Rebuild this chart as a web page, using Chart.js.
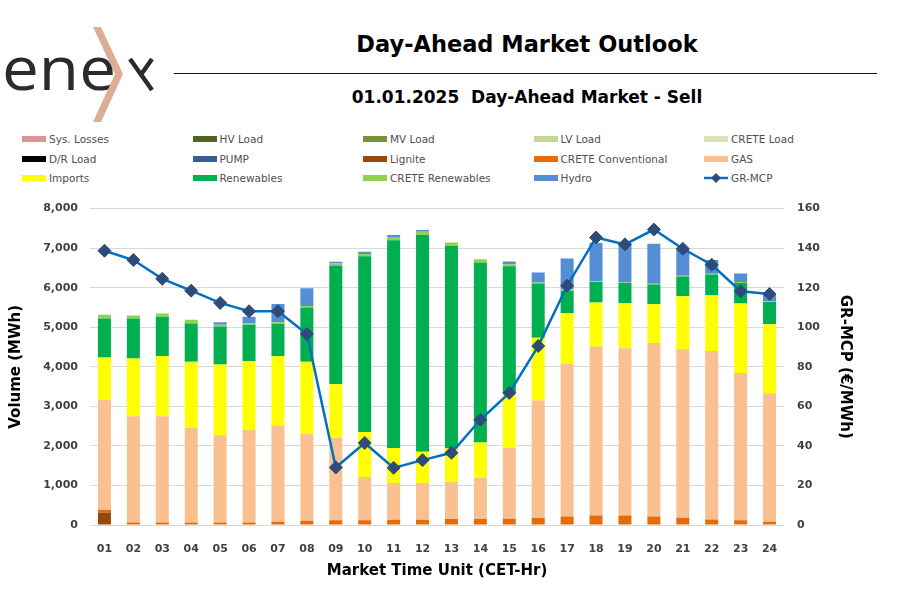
<!DOCTYPE html>
<html>
<head>
<meta charset="utf-8">
<script src="https://cdn.jsdelivr.net/npm/chart.js@4.4.1/dist/chart.umd.min.js"></script>
<style>
  body { margin:0; width:902px; height:591px; background:#fff; position:relative; overflow:hidden; font-family:"DejaVu Sans", sans-serif; }
  #logo { position:absolute; left:0; top:0; }
  .title { position:absolute; left:327px; width:400px; text-align:center; font-weight:bold; color:#000; white-space:nowrap; }
  #mainTitle { top:31px; font-size:22.5px; }
  #subTitle { top:87px; font-size:17px; }
  #rule { position:absolute; left:174px; top:73px; width:703px; height:1px; background:#111; }
  #legend { position:absolute; left:0; top:130px; width:902px; height:60px; }
  .item { position:absolute; font-size:10.5px; color:#505050; white-space:nowrap; line-height:12px; }
  .sw { display:inline-block; width:24px; height:6px; vertical-align:middle; margin-right:3px; margin-top:-2px; }
  #wrap { position:absolute; left:0; top:189px; width:902px; height:402px; }
</style>
</head>
<body>
<svg id="logo" width="170" height="130">
  <text x="2" y="90" font-family="Open Sans, sans-serif" font-size="60" fill="#2b2b2b" textLength="114" lengthAdjust="spacingAndGlyphs">ene</text>
  <polygon points="93,27 101,27 123,74 101,122 93,122 115,74" fill="#dcae95"/>
  <line x1="130" y1="59" x2="152" y2="90" stroke="#2b2b2b" stroke-width="4.5"/>
  <line x1="152" y1="59" x2="140" y2="76" stroke="#2b2b2b" stroke-width="4.5"/>
</svg>
<div id="mainTitle" class="title">Day-Ahead Market Outlook</div>
<div id="rule"></div>
<div id="subTitle" class="title">01.01.2025&nbsp;&nbsp;Day-Ahead Market - Sell</div>
<div id="legend"></div>
<div id="wrap"><canvas id="marketChart"></canvas></div>
<script>
const hours = ["01","02","03","04","05","06","07","08","09","10","11","12",
               "13","14","15","16","17","18","19","20","21","22","23","24"];

// MWh per market time unit
const lignite      = [317,0,0,0,0,0,0,0,0,0,0,0,0,0,0,0,0,0,0,0,0,0,0,0];
const creteConv    = [67,65,65,65,65,65,80,108,117,117,134,134,150,150,158,176,217,243,243,217,184,142,117,84];
const gas          = [2787,2687,2687,2395,2202,2345,2438,2192,2083,1096,928,928,946,1046,1800,2970,3858,4267,4226,4385,4259,4259,3724,3246];
const imports      = [1062,1456,1524,1665,1790,1732,1750,1825,1356,1138,888,787,837,887,1372,1590,1280,1114,1137,979,1339,1414,1757,1749];
const renewables   = [989,1014,987,972,964,920,819,1373,3005,4445,5247,5482,5121,4553,3214,1373,570,517,510,502,502,519,518,561];
const creteRen     = [91,75,84,90,41,42,42,41,50,58,84,83,92,84,51,25,33,19,18,17,16,17,25,17];
const hydro        = [0,0,0,0,67,159,460,444,42,58,50,42,0,0,66,251,778,970,979,1013,687,352,219,158];

// €/MWh
const grMcp = [138.7,134.0,124.5,118.5,112.3,108.1,108.1,96.6,29.1,41.5,28.9,32.8,
               36.5,53.2,66.8,90.5,121.0,145.4,141.9,149.4,139.7,131.6,118.2,116.8];

// series with no volume on the sell side (legend only)
const legendOnly = [
  ["Sys. Losses", "#DA9694"],
  ["HV Load", "#4F6228"],
  ["MV Load", "#77933C"],
  ["LV Load", "#C3D69B"],
  ["CRETE Load", "#D7E4BD"],
  ["D/R Load", "#000000"],
  ["PUMP", "#376092"]
];

const axisFont = { family:"DejaVu Sans", size:11, weight:"bold" };
const titleFont = { family:"DejaVu Sans", size:15, weight:"bold" };

function barSet(label, color, data) {
  return {
    type: "bar",
    label: label,
    data: data,
    backgroundColor: color,
    borderWidth: 0,
    yAxisID: "y",
    order: 2,
    barPercentage: 0.45,
    categoryPercentage: 1
  };
}

const datasets = legendOnly.map(s => barSet(s[0], s[1], []));
datasets.push(barSet("Lignite", "#984807", lignite));
datasets.push(barSet("CRETE Conventional", "#E46C0A", creteConv));
datasets.push(barSet("GAS", "#FAC090", gas));
datasets.push(barSet("Imports", "#FFFF00", imports));
datasets.push(barSet("Renewables", "#00B050", renewables));
datasets.push(barSet("CRETE Renewables", "#92D050", creteRen));
datasets.push(barSet("Hydro", "#558ED5", hydro));
datasets.push({
  type: "line",
  label: "GR-MCP",
  data: grMcp,
  yAxisID: "y1",
  order: 0,
  borderColor: "#0070C0",
  borderWidth: 2.5,
  tension: 0,
  pointStyle: "rectRot",
  pointRadius: 6.5,
  pointBackgroundColor: "#2E4B7A",
  pointBorderColor: "#2E4B7A",
  pointBorderWidth: 1
});

const chart = new Chart(document.getElementById("marketChart"), {
  data: { labels: hours, datasets: datasets },
  options: {
    responsive: true,
    maintainAspectRatio: false,
    animation: false,
    layout: { padding: 0 },
    plugins: { legend: { display: false }, tooltip: { enabled: false } },
    scales: {
      x: {
        stacked: true,
        grid: { display: false },
        border: { display: false },
        ticks: { font: axisFont, color: "#404040", padding: 10 },
        title: { display: true, text: "Market Time Unit (CET-Hr)", font: titleFont, color: "#000", padding: { bottom: 11 } },
        afterFit: s => { s.height = 66; }
      },
      y: {
        stacked: true,
        min: 0,
        max: 8000,
        grid: { color: "#d9d9d9", drawTicks: false },
        border: { display: false },
        ticks: { stepSize: 1000, font: axisFont, color: "#404040", padding: 12,
                 callback: v => v.toLocaleString("en-US") },
        title: { display: true, text: "Volume (MWh)", font: titleFont, color: "#000", padding: { top: 7 } },
        afterFit: s => { s.width = 90; }
      },
      y1: {
        position: "right",
        min: 0,
        max: 160,
        grid: { display: false, drawTicks: false },
        border: { display: false },
        ticks: { stepSize: 20, font: axisFont, color: "#404040", padding: 13 },
        title: { display: true, text: "GR-MCP (€/MWh)", font: titleFont, color: "#000", padding: { top: 48 } },
        afterFit: s => { s.width = 118; }
      }
    }
  }
});

// legend laid out in a 5-column grid, like the source report
const legendBox = document.getElementById("legend");
chart.data.datasets.forEach((ds, i) => {
  const col = i % 5, row = Math.floor(i / 5);
  const item = document.createElement("div");
  item.className = "item";
  item.style.left = (22 + col * 170.5) + "px";
  item.style.top = (3 + row * 19.5) + "px";
  let sw;
  if (ds.type === "line") {
    sw = '<svg width="24" height="12" style="vertical-align:middle;margin-right:3px;margin-top:-2px">' +
         '<line x1="0" y1="6" x2="24" y2="6" stroke="' + ds.borderColor + '" stroke-width="2.5"/>' +
         '<polygon points="12,1 17,6 12,11 7,6" fill="' + ds.pointBackgroundColor + '"/></svg>';
  } else {
    sw = '<span class="sw" style="background:' + ds.backgroundColor + '"></span>';
  }
  item.innerHTML = sw + ds.label;
  legendBox.appendChild(item);
});
</script>
</body>
</html>
